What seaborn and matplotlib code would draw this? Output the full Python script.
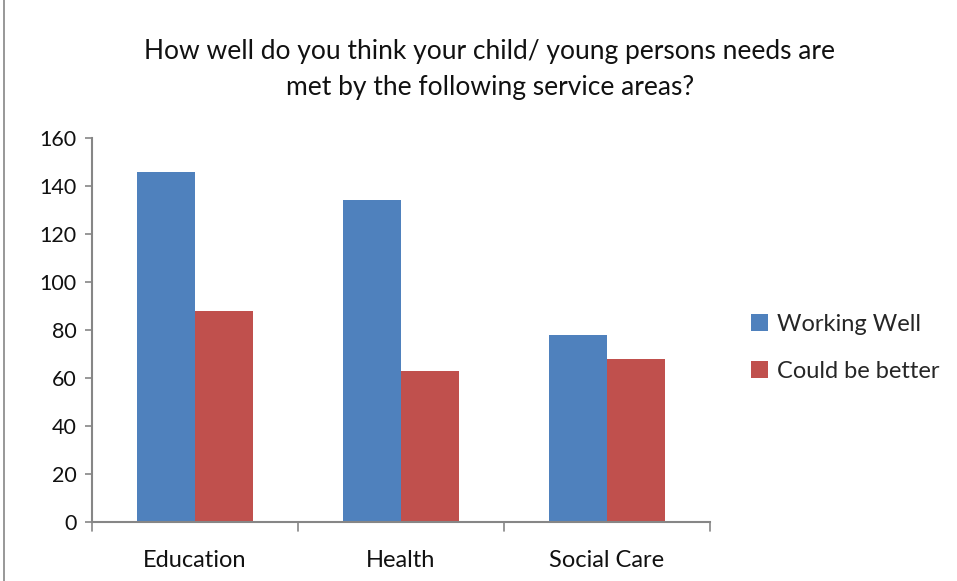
import matplotlib
matplotlib.use("Agg")
import matplotlib.pyplot as plt
import seaborn as sns
import pandas as pd
from matplotlib.patches import Rectangle

categories = ["Education", "Health", "Social Care"]
working_well = [146, 134, 78]
could_be_better = [88, 63, 68]
series_names = ["Working Well", "Could be better"]
yticks = [0, 20, 40, 60, 80, 100, 120, 140, 160]

df = pd.DataFrame({
    "Category": categories * 2,
    "Series": [series_names[0]] * 3 + [series_names[1]] * 3,
    "Value": working_well + could_be_better,
})

sns.set_theme(style="white")
plt.rcParams["font.family"] = ["Lato", "DejaVu Sans"]

fig = plt.figure(figsize=(9.57, 5.81), dpi=100)
ax = fig.add_axes([92/957, 1 - 522/581, (710-92)/957, (522-138)/581])

sns.barplot(data=df, x="Category", y="Value", hue="Series",
            palette=["#4F81BD", "#C0504D"], width=0.563, ax=ax,
            saturation=1, edgecolor="none", linewidth=0)

ax.set_xlim(-0.5, 2.5)
ax.set_ylim(0, 160)
ax.set_yticks(yticks)
ax.set_yticklabels([str(t) for t in yticks], fontsize=15.5, color="#111111")
ax.set_xticks([0, 1, 2])
ax.set_xticklabels(categories, fontsize=17, color="#111111")
ax.tick_params(axis="x", length=0, pad=20)
ax.tick_params(axis="y", length=5, width=1.2, color="#868686", pad=6, left=True, direction="out")
for t in [-0.5, 0.5, 1.5, 2.5]:
    ax.plot([t, t], [0, -0.024], transform=ax.get_xaxis_transform(), color="#868686",
            lw=1.2, clip_on=False)
ax.set_xlabel("")
ax.set_ylabel("")
for s in ["top", "right"]:
    ax.spines[s].set_visible(False)
for s in ["left", "bottom"]:
    ax.spines[s].set_color("#868686")
    ax.spines[s].set_linewidth(1.5)

ax.legend(loc="center left", bbox_to_anchor=(751/957, 1 - 348/581), bbox_transform=fig.transFigure,
          frameon=False, fontsize=17, handlelength=0.7, handleheight=0.7,
          labelspacing=1.1, handletextpad=0.4, borderaxespad=0, borderpad=0)

fig.text(490/957, 1 - 52/581, "How well do you think your child/ young persons needs are",
         ha="center", va="center", fontsize=19, color="#111111")
fig.text(490/957, 1 - 88/581, "met by the following service areas?",
         ha="center", va="center", fontsize=19, color="#111111")

fig.patches.append(Rectangle((4/957, -0.05), 1.2, 1.2, transform=fig.transFigure,
                             fill=False, edgecolor="#868686", lw=1.2))

fig.savefig("out.png", dpi=100)
